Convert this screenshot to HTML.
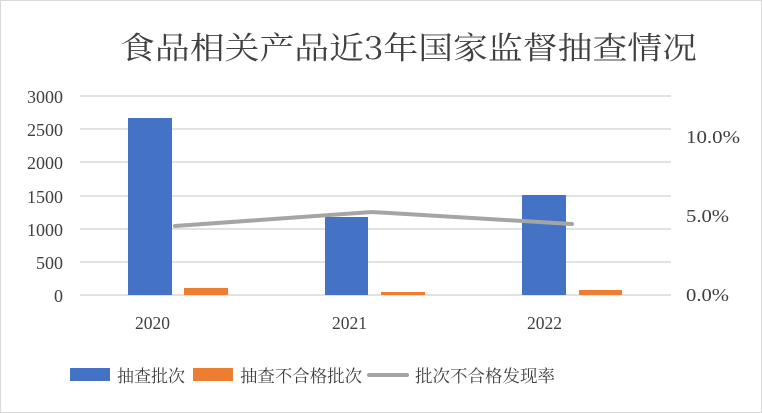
<!DOCTYPE html>
<html><head><meta charset="utf-8"><style>
html,body{margin:0;padding:0;background:#fff}
svg{display:block}
text{font-family:"Liberation Serif","Noto Serif CJK SC",serif;fill:#404040}
</style></head><body>
<svg width="762" height="413" viewBox="0 0 762 413">
<rect x="0.5" y="0.5" width="761" height="412" fill="#fff" stroke="#d9d9d9"/>
<text x="120" y="59" font-size="31" textLength="577" lengthAdjust="spacingAndGlyphs" fill="#404040" style="font-family:'Noto Serif CJK SC',serif">食品相关产品近3年国家监督抽查情况</text>
<g stroke="#d9d9d9" stroke-width="1.5">
<line x1="80" x2="671" y1="96" y2="96"/><line x1="80" x2="671" y1="129" y2="129"/>
<line x1="80" x2="671" y1="162" y2="162"/><line x1="80" x2="671" y1="196" y2="196"/>
<line x1="80" x2="671" y1="229" y2="229"/><line x1="80" x2="671" y1="262" y2="262"/>
<line x1="80" x2="671" y1="295" y2="295"/>
</g>
<g font-size="18" text-anchor="end">
<text x="63" y="103">3000</text><text x="63" y="136">2500</text><text x="63" y="169">2000</text>
<text x="63" y="203">1500</text><text x="63" y="236">1000</text><text x="63" y="269">500</text><text x="63" y="302">0</text>
</g>
<g font-size="18">
<text x="686" y="143" textLength="54" lengthAdjust="spacingAndGlyphs">10.0%</text>
<text x="686" y="222" textLength="43" lengthAdjust="spacingAndGlyphs">5.0%</text>
<text x="686" y="301" textLength="43" lengthAdjust="spacingAndGlyphs">0.0%</text>
</g>
<g fill="#4472c4">
<rect x="128" y="118" width="44" height="177"/>
<rect x="325" y="217" width="43" height="78"/>
<rect x="522" y="195" width="44" height="100"/>
</g>
<g fill="#ed7d31">
<rect x="184" y="288" width="44" height="7"/>
<rect x="381" y="292" width="44" height="3"/>
<rect x="579" y="290" width="43" height="5"/>
</g>
<polyline points="175,226 372,212 572,224" fill="none" stroke="#a5a5a5" stroke-width="4" stroke-linecap="round"/>
<g font-size="18">
<text x="135" y="329" textLength="35" lengthAdjust="spacingAndGlyphs">2020</text>
<text x="332" y="329" textLength="35" lengthAdjust="spacingAndGlyphs">2021</text>
<text x="527" y="329" textLength="35" lengthAdjust="spacingAndGlyphs">2022</text>
</g>
<rect x="70" y="368" width="40" height="13" fill="#4472c4"/>
<text x="117" y="382" font-size="17" textLength="68" lengthAdjust="spacingAndGlyphs">抽查批次</text>
<rect x="193" y="368" width="40" height="13" fill="#ed7d31"/>
<text x="240" y="382" font-size="17" textLength="122" lengthAdjust="spacingAndGlyphs">抽查不合格批次</text>
<line x1="369" x2="407" y1="375" y2="375" stroke="#a5a5a5" stroke-width="4" stroke-linecap="round"/>
<text x="415" y="382" font-size="17" textLength="140" lengthAdjust="spacingAndGlyphs">批次不合格发现率</text>
</svg>
</body></html>
